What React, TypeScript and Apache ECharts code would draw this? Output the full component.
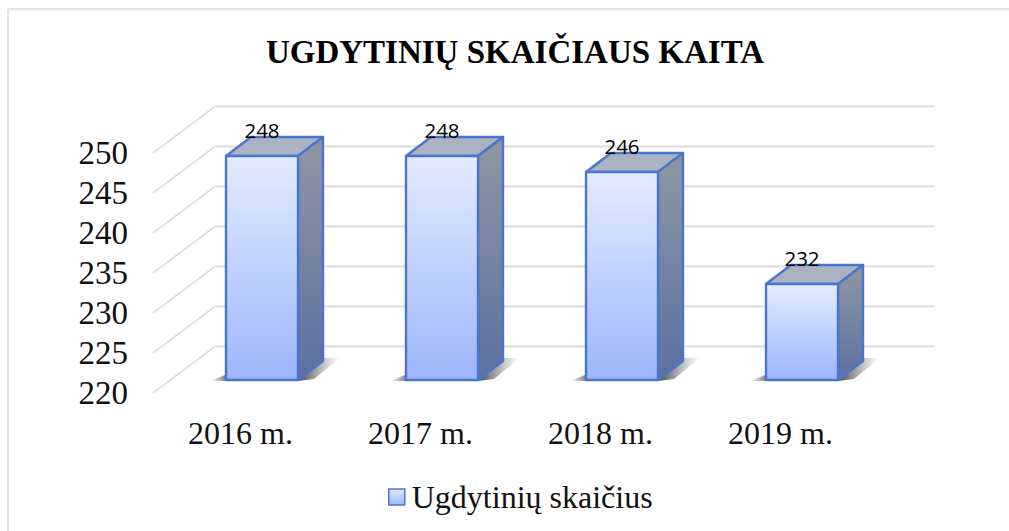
import React, { useEffect, useRef } from "react";
import * as echarts from "echarts";

const titleText = "UGDYTINIŲ SKAIČIAUS KAITA";
const categories = ["2016 m.", "2017 m.", "2018 m.", "2019 m."];
const seriesName = "Ugdytinių skaičius";
const values = [248, 248, 246, 232];
const yTicks = [220, 225, 230, 235, 240, 245, 250];

const serif = "'Liberation Serif', 'Times New Roman', serif";
const vGrad = (a: string, b: string) => new echarts.graphic.LinearGradient(0, 0, 0, 1, [{ offset: 0, color: a }, { offset: 1, color: b }]);
const hGrad = (a: string, b: string) => new echarts.graphic.LinearGradient(0, 0, 1, 0, [{ offset: 0, color: a }, { offset: 1, color: b }]);

export default function App() {
  const ref = useRef<HTMLDivElement>(null);
  useEffect(() => {
    document.body.style.margin = "0";
    const chart = echarts.init(ref.current!, undefined, { renderer: "svg" });
    const floorDx = 62, floorDy = -46.5;
    const barDx = 25, barDy = -19, barW = 72, shiftX = 19, shiftY = -13;
    chart.setOption({
      animation: false,
      backgroundColor: "#ffffff",
      title: {
        text: titleText, left: 510, top: 30, textAlign: "center",
        textStyle: { fontFamily: serif, fontSize: 33, fontWeight: "bold", color: "#000" },
      },
      legend: {
        data: [{
          name: seriesName, icon: "rect",
          itemStyle: { color: vGrad("#E2EBFE", "#9DB7FB"), borderColor: "#4A75CB", borderWidth: 1.5 },
        }],
        left: 383, top: 476, itemWidth: 16, itemHeight: 16, itemGap: 0,
        textStyle: { fontFamily: serif, fontSize: 32, color: "#111", padding: [0, 0, 0, 2] },
      },
      grid: { left: 153, top: 153, width: 720, height: 240, containLabel: false },
      xAxis: {
        type: "category", data: categories,
        axisLine: { show: false }, axisTick: { show: false }, splitLine: { show: false },
        axisLabel: { fontFamily: serif, fontSize: 32, color: "#111", margin: 24, padding: [0, 5, 0, 0] },
      },
      yAxis: {
        type: "value", min: 220, max: 250, interval: 5,
        axisLine: { show: false }, axisTick: { show: false }, splitLine: { show: false },
        axisLabel: { fontFamily: serif, fontSize: 33, color: "#111", margin: 25, padding: [4, 0, 0, 0] },
      },
      graphic: [
        { type: "line", shape: { x1: 8, y1: 9, x2: 1009, y2: 9 }, style: { stroke: "#E3E3E3", lineWidth: 2 }, silent: true },
        { type: "line", shape: { x1: 8, y1: 9, x2: 8, y2: 531 }, style: { stroke: "#E3E3E3", lineWidth: 2 }, silent: true },
      ],
      series: [
        {
          type: "custom", name: "walls", silent: true, z: 1, clip: false,
          data: yTicks.map((t) => [0, t]), encode: { x: 0, y: 1 },
          renderItem: (params: any, api: any) => {
            const cs = params.coordSys;
            const y = api.coord([0, api.value(1)])[1];
            const style = { stroke: "#DEDEDE", lineWidth: 1.8, fill: "none" };
            return {
              type: "group",
              children: [
                { type: "line", shape: { x1: cs.x, y1: y, x2: cs.x + floorDx, y2: y + floorDy }, style },
                { type: "line", shape: { x1: cs.x + floorDx, y1: y + floorDy, x2: cs.x + cs.width + floorDx, y2: y + floorDy }, style },
              ],
            };
          },
        },
        {
          type: "custom", name: seriesName, silent: true, z: 2, clip: false,
          data: values.map((v, i) => [i, v]), encode: { x: 0, y: 1 },
          renderItem: (_p: any, api: any) => {
            const v = api.value(1);
            const [cx, ty] = api.coord([api.value(0), v]);
            const by = api.coord([api.value(0), 220])[1] + shiftY;
            const top = ty + shiftY;
            const l = cx + shiftX - barW / 2, r = l + barW;
            const stroke = { stroke: "#4A75CB", lineWidth: 2.4, lineJoin: "round" };
            return {
              type: "group",
              children: [
                { type: "polygon", shape: { points: [[l - 16, by + 1], [l + 4, by - 7], [l + 6, by + 1]] }, style: { fill: hGrad("rgba(60,60,60,0)", "rgba(50,50,50,0.85)") } },
                { type: "polygon", shape: { points: [[r, by + 1], [r + barDx, by + barDy - 3], [r + barDx + 17, by + barDy - 3], [r + 16, by - 1]] }, style: { fill: hGrad("rgba(40,40,40,0.85)", "rgba(110,110,110,0)") } },
                { type: "polygon", shape: { points: [[l, top], [l + barDx, top + barDy], [r + barDx, top + barDy], [r, top]] }, style: { fill: "#ABB2C2", ...stroke } },
                { type: "polygon", shape: { points: [[r, top], [r + barDx, top + barDy], [r + barDx, by + barDy], [r, by]] }, style: { fill: vGrad("#9096A4", "#5C71A1"), ...stroke } },
                { type: "rect", shape: { x: l, y: top, width: barW, height: by - top }, style: { fill: vGrad("#E3ECFF", "#9CB6FB"), ...stroke } },
                { type: "text", x: cx + shiftX, y: top - 26, style: { text: String(v), fill: "#000", fontFamily: "'Open Sans', sans-serif", fontSize: 20.5, align: "center", verticalAlign: "middle" } },
              ],
            };
          },
        },
      ],
    });
    return () => chart.dispose();
  }, []);
  return <div ref={ref} style={{ width: 1009, height: 531 }} />;
}
